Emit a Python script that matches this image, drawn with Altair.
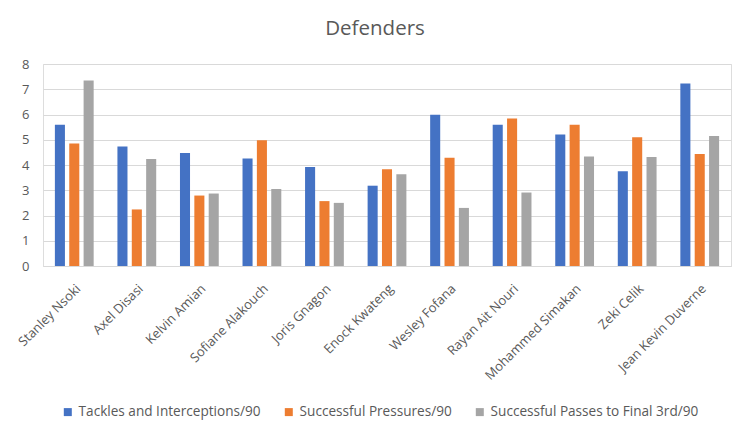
import altair as alt
import pandas as pd

players = ["Stanley Nsoki", "Axel Disasi", "Kelvin Amian", "Sofiane Alakouch", "Joris Gnagon",
           "Enock Kwateng", "Wesley Fofana", "Rayan Ait Nouri", "Mohammed Simakan", "Zeki Celik",
           "Jean Kevin Duverne"]
series = ["Tackles and Interceptions/90", "Successful Pressures/90", "Successful Passes to Final 3rd/90"]
tackles = [5.59, 4.73, 4.48, 4.26, 3.92, 3.18, 5.99, 5.59, 5.21, 3.75, 7.23]
pressures = [4.85, 2.24, 2.79, 4.98, 2.57, 3.83, 4.29, 5.84, 5.59, 5.10, 4.44]
passes = [7.35, 4.24, 2.87, 3.05, 2.50, 3.63, 2.30, 2.91, 4.34, 4.32, 5.15]
colors = ["#4472C4", "#ED7D31", "#A5A5A5"]
yticks = [0, 1, 2, 3, 4, 5, 6, 7, 8]

rows = []
for s, vals in zip(series, [tackles, pressures, passes]):
    for p, v in zip(players, vals):
        rows.append({"Player": p, "Series": s, "Value": v})
df = pd.DataFrame(rows)

font = "Open Sans"
grey = "#595959"

chart = alt.Chart(df).mark_bar().encode(
    x=alt.X("Player:N", sort=players, title=None,
            scale=alt.Scale(paddingInner=0.38, paddingOuter=0.19),
            axis=alt.Axis(labelAngle=-45, labelAlign="right", labelBaseline="top",
                          labelFontSize=13, labelColor=grey, labelFont=font, labelLimit=0,
                          ticks=False, domain=True, domainColor="#d9d9d9", labelPadding=16)),
    xOffset=alt.XOffset("Series:N", sort=series, scale=alt.Scale(paddingInner=0.3)),
    y=alt.Y("Value:Q", title=None, scale=alt.Scale(domain=[0, 8], nice=False),
            axis=alt.Axis(values=yticks, labelOverlap=False, labelFontSize=13, labelColor=grey,
                          labelFont=font, ticks=False, domain=False, labelPadding=14,
                          gridColor="#d9d9d9", gridWidth=1)),
    color=alt.Color("Series:N", sort=series, title=None,
                    scale=alt.Scale(domain=series, range=colors),
                    legend=alt.Legend(orient="none", legendX=18, legendY=341,
                                      direction="horizontal", symbolType="square",
                                      symbolSize=64, labelFontSize=13.6, labelColor=grey,
                                      labelFont=font, columnPadding=21, symbolStrokeWidth=0,
                                      labelOffset=4, labelLimit=0)),
).properties(
    width=688, height=202,
    title=alt.TitleParams("Defenders", fontSize=20.5, color=grey, font=font, fontWeight="normal",
                          anchor="middle", offset=19, dx=-12),
).configure_view(stroke=None).configure(padding={"left": 8, "top": 10, "right": 10, "bottom": 5})

chart.save("out.html", embed_options={"renderer": "svg", "actions": False})
